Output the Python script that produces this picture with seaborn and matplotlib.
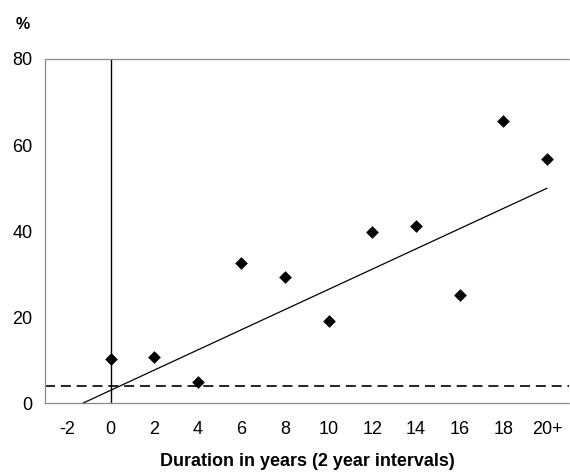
import numpy as np
import pandas as pd
import seaborn as sns
import matplotlib.pyplot as plt

# values
durations = [0, 2, 4, 6, 8, 10, 12, 14, 16, 18, 20]
percent = [10.2, 10.6, 4.9, 32.5, 29.3, 19.1, 39.8, 41.1, 25.1, 65.7, 56.8]
tick_pos = [-2, 0, 2, 4, 6, 8, 10, 12, 14, 16, 18, 20]
tick_labels = ["-2", "0", "2", "4", "6", "8", "10", "12", "14", "16", "18", "20+"]
y_ticks = [0, 20, 40, 60, 80]

# fitted trend line as drawn (slope per year, intercept), and the reference level
trend_slope = 2.35
trend_intercept = 2.96
reference_level = 4.0

df = pd.DataFrame({"duration": durations, "percent": percent})

sns.set_theme(style="white")
plt.rcParams["font.family"] = ["Liberation Sans", "DejaVu Sans"]

fig = plt.figure(figsize=(5.7, 4.72), dpi=100)
ax = fig.add_axes([0.079, 0.146, 0.919, 0.729])

sns.scatterplot(data=df, x="duration", y="percent", marker="D", s=42,
                color="black", edgecolor="black", linewidth=0, ax=ax, zorder=3)

# trend line from where it crosses zero up to the last interval
x0 = -trend_intercept / trend_slope
xs = np.array([x0, durations[-1]])
ax.plot(xs, trend_intercept + trend_slope * xs, color="black", lw=0.9)

ax.axhline(reference_level, color="black", lw=1.2, dashes=(6, 3.5))
ax.axvline(0, color="black", lw=1.0)

ax.set_xlim(-3, 21)
ax.set_ylim(0, 80)
ax.set_xticks(tick_pos)
ax.set_xticklabels(tick_labels)
ax.set_yticks(y_ticks)
ax.tick_params(axis="both", length=0, labelsize=13, colors="black")
ax.tick_params(axis="x", pad=13)
ax.tick_params(axis="y", pad=9)

for side in ["top", "bottom", "left"]:
    ax.spines[side].set_color("#8a8a8a")
    ax.spines[side].set_linewidth(0.9)
    ax.spines[side].set_linestyle((0, (3, 1)))
ax.spines["right"].set_visible(False)

ax.set_xlabel("Duration in years (2 year intervals)", fontsize=13,
              fontweight="bold", color="black", labelpad=11)
ax.set_ylabel("")
fig.text(0.039, 0.948, "%", fontsize=11.5, fontweight="bold", color="black",
         ha="center", va="center")

fig.savefig("out.png", dpi=100, facecolor="white")
